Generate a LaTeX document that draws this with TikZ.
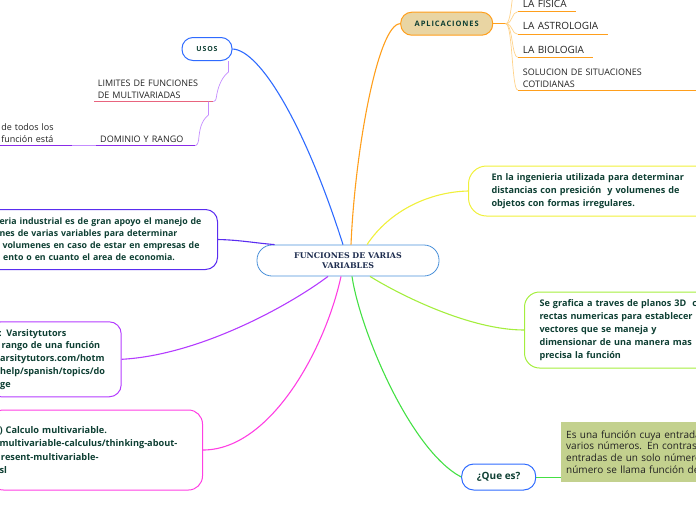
\documentclass[tikz,border=0pt]{standalone}
\usepackage{fontspec}
\setmainfont{Open Sans}
\newfontfamily\slabfont{DejaVu Serif}
\newfontfamily\capsfont[LetterSpace=12]{Open Sans}
\usepackage{tikz}
\usetikzlibrary{positioning}
\definecolor{rootblue}{HTML}{4A90D9}
\definecolor{rootink}{HTML}{1C2B4D}
\definecolor{ink}{HTML}{0E3F33}
\definecolor{leafink}{HTML}{222222}
\definecolor{usosblue}{HTML}{2F6BFF}
\definecolor{apporange}{HTML}{FF9F1C}
\definecolor{appfill}{HTML}{E9D5A3}
\definecolor{applight}{HTML}{FFD38A}
\definecolor{ingyellow}{HTML}{F0F03A}
\definecolor{grafgreen}{HTML}{A4EE3E}
\definecolor{quegreen}{HTML}{44E044}
\definecolor{olive}{HTML}{C3D18E}
\definecolor{indblue}{HTML}{5A2DF0}
\definecolor{varviolet}{HTML}{B43CFF}
\definecolor{calcpink}{HTML}{FF3FE3}
\definecolor{limred}{HTML}{E8647E}
\definecolor{dompurple}{HTML}{8A2BE8}
\definecolor{sublilac}{HTML}{C48CFF}
\def\BoxText{\fontsize{9.1}{12.9}\selectfont\bfseries}
\def\LeafText{\fontsize{9}{12.3}\selectfont}
\tikzset{
	topic/.style={draw, line width=1pt, rounded corners=11pt, minimum width=50pt, minimum height=23pt, inner sep=0pt, text=ink, font=\capsfont\bfseries\fontsize{7}{8}\selectfont},
	note/.style={draw, line width=1pt, align=left, text=ink, font=\BoxText, inner ysep=0pt},
	leaf/.style={align=left, inner ysep=3pt, text=leafink, font=\LeafText},
	appleaf/.style={leaf, anchor=south west, inner xsep=5pt, inner ysep=4.2pt, font=\fontsize{10}{12}\selectfont},
	branch/.style={line width=1.1pt},
	twig/.style={line width=0.7pt},
}

\begin{document}
\begin{tikzpicture}[x=1pt,y=-1pt]
	\useasboundingbox (0,0) rectangle (696,520);
	\clip (0,0) rectangle (696,520);
	% centre and topics
	\node[draw=rootblue, line width=0.8pt, rounded corners=15pt, minimum width=182pt, minimum height=31pt, align=center, text=rootink, font=\slabfont\bfseries\fontsize{7.9}{10.2}\selectfont] (root) at (348,260.5) {FUNCIONES DE VARIAS\\VARIABLES};
	\node[topic, draw=usosblue] (usos) at (207,49) {USOS};
	\node[topic, draw=apporange, fill=appfill, minimum width=92pt, font=\capsfont\bfseries\fontsize{7.5}{8}\selectfont] (apl) at (446.7,23.7) {APLICACIONES};
	\node[topic, draw=usosblue, font=\bfseries\fontsize{10}{12}\selectfont, minimum width=74pt, minimum height=26pt, rounded corners=12pt] (que) at (498.7,477) {¿Que es?};

	% notes
	\node[note, draw=ingyellow, anchor=west, text width=260pt, inner xsep=23pt, minimum height=50pt, rounded corners=18pt] (ing) at (468,191) {En la ingenieria utilizada para determinar\\distancias con presición\ \ y volumenes de\\objetos con formas irregulares.};
	\node[note, draw=grafgreen, anchor=west, text width=240pt, inner xsep=15pt, minimum height=76pt, rounded corners=15pt] (graf) at (524,330) {Se grafica a traves de planos 3D\ \ con\\rectas numericas para establecer\\vectores que se maneja y\\dimensionar de una manera mas\\precisa la función};
	\node[fill=olive, anchor=west, align=left, text width=220pt, inner xsep=5pt, minimum height=60pt, text=leafink, font=\fontsize{10}{11.7}\selectfont] (def) at (561,452) {Es una función cuya entrada\\varios números. En contraste\\entradas de un solo número\\número se llama función de};
	\node[note, draw=indblue, anchor=east, text width=206pt, inner xsep=12pt, minimum height=60pt, rounded corners=12pt, font=\fontsize{8.8}{11.9}\selectfont\bfseries] (ind) at (218,239.5) {eria industrial es de gran apoyo el manejo de\\nes de varias variables para determinar\\\hspace*{3pt}volumenes en caso de estar en empresas de\\\hspace*{3.7pt}ento o en cuanto el area de economia.};
	\node[note, draw=varviolet, anchor=east, text width=112pt, inner xsep=10pt, minimum height=75pt, rounded corners=12pt, font=\fontsize{9.1}{12.8}\selectfont\bfseries] (var) at (121.7,359.3) {: Varsitytutors\\\hspace*{2.5pt}rango de una función\\\hspace*{1pt}arsitytutors.com/hotm\\\hspace*{1pt}help/spanish/topics/do\\\hspace*{1pt}ge};
	\node[note, draw=calcpink, anchor=east, text width=193pt, inner xsep=10pt, minimum height=80pt, rounded corners=14pt, font=\fontsize{9.2}{13.6}\selectfont\bfseries] (calc) at (203,450) {) Calculo multivariable.\\multivariable-calculus/thinking-about-\\\hspace*{1.5pt}resent-multivariable-\\sl};

	% leaves
	\node[leaf, anchor=south west, text width=111.6pt, inner xsep=3.7pt, inner ysep=2.7pt] (lim) at (94,101.7) {LIMITES DE FUNCIONES\\DE MULTIVARIADAS};
	\node[leaf, anchor=south west, text width=91pt, inner xsep=4pt, inner ysep=3.4pt] (dom) at (96,145.7) {DOMINIO Y RANGO};
	\node[leaf, left=24pt of dom.south west, anchor=south east, text width=67.5pt, inner xsep=3pt] (frag) {de todos los\\función está};
	\node[appleaf, text width=48.3pt] (fis) at (517.7,11.7) {LA FISICA};
	\node[appleaf, text width=80pt] (ast) at (517.7,34.3) {LA ASTROLOGIA};
	\node[appleaf, text width=65pt, inner ysep=4pt] (bio) at (517.7,57.3) {LA BIOLOGIA};
	\node[appleaf, text width=200pt, inner ysep=2.7pt, font=\fontsize{9}{11.6}\selectfont] (sol) at (517.7,90) {SOLUCION DE SITUACIONES\\COTIDIANAS};
	\coordinate (up) at (517.7,-22);

	\foreach \n/\c in {lim/limred, dom/dompurple, frag/dompurple, fis/apporange, ast/apporange, bio/apporange, sol/apporange}
		\draw[\c, line width=1pt] (\n.south west) -- (\n.south east);

	% branches
	\draw[branch, usosblue] (usos.east) .. controls (260,50) and (305,125) .. ([xshift=-5pt]root.north);
	\draw[branch, apporange] (apl.west) .. controls (378,24) and (355,150) .. ([xshift=3pt]root.north);
	\draw[branch, ingyellow] (ing.west) .. controls (430,192) and (390,210) .. ([xshift=19pt]root.north);
	\draw[branch, indblue] (ind.east) .. controls (240,240) and (255,243) .. ([xshift=18pt]root.north west);
	\draw[branch, grafgreen] ([xshift=22pt]root.south) .. controls (400,295) and (470,330) .. (graf.west);
	\draw[branch, quegreen] ([xshift=4pt]root.south) .. controls (360,330) and (410,450) .. (que.west);
	\draw[branch, varviolet] ([xshift=-20pt]root.south) .. controls (290,305) and (200,355) .. (var.east);
	\draw[branch, calcpink] ([xshift=-7pt]root.south) .. controls (325,350) and (270,450) .. (calc.east);

	\draw[twig, quegreen] (que.east) -- (que.east -| def.west);
	\draw[twig, sublilac] ([xshift=-4pt]usos.south east) -- ++(0,11) .. controls (220,78.3) and (217,92) .. (216.5,96.5) .. controls (216,100) and (215,101.7) .. (lim.south east);
	\draw[twig, sublilac] ([xshift=-5pt]lim.south east) -- ++(0,13.3) .. controls (201,121) and (199.5,130) .. (198.6,140) .. controls (198,144) and (196.5,145.7) .. (dom.south east);
	\draw[twig, sublilac] (frag.south east) -- (dom.south west);

	\draw[branch, apporange] (apl.east) -- ++(12.5,0) coordinate (fork);
	\foreach \n in {up, fis.south west, ast.south west, bio.south west, sol.south west}
		\draw[twig, applight] (fork) .. controls +(7,0) and +(-6,0) .. (\n);
\end{tikzpicture}
\end{document}
